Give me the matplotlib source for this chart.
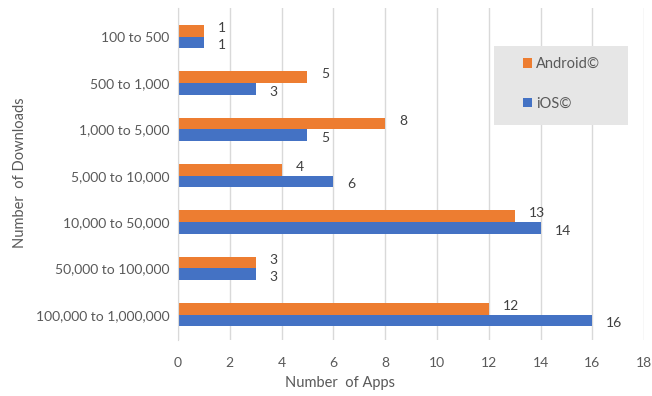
import matplotlib
matplotlib.use('Agg')
import matplotlib.pyplot as plt
from matplotlib.patches import Rectangle
import numpy as np

categories = ['100 to 500', '500 to 1,000', '1,000 to 5,000', '5,000 to 10,000',
              '10,000 to 50,000', '50,000 to 100,000', '100,000 to 1,000,000']
android = [1, 5, 8, 4, 13, 3, 12]
ios = [1, 3, 5, 6, 14, 3, 16]
x_ticks = [0, 2, 4, 6, 8, 10, 12, 14, 16, 18]

orange = '#ED7D31'
blue = '#4472C4'
text_col = '#595959'

plt.rcParams['font.family'] = ['Lato', 'DejaVu Sans']

fig = plt.figure(figsize=(6.52, 3.96), dpi=100)
ax = fig.add_axes([0.273, 0.141, 0.715, 0.839])

y = np.arange(len(categories))
h = 0.25
ax.barh(y - h / 2, android, height=h, color=orange, label='Android©')
ax.barh(y + h / 2, ios, height=h, color=blue, label='iOS©')

# value labels
for yi, v in zip(y, android):
    ax.annotate(str(v), (v, yi - h / 2), xytext=(10, 2), textcoords='offset points',
                va='center', ha='left', fontsize=10, color='#404040')
for yi, v in zip(y, ios):
    ax.annotate(str(v), (v, yi + h / 2), xytext=(10, -2), textcoords='offset points',
                va='center', ha='left', fontsize=10, color='#404040')

ax.set_xlim(0, 18)
ax.set_ylim(6.55, -0.62)
ax.set_xticks(x_ticks)
ax.set_yticks(y)
ax.set_yticklabels(categories)
ax.grid(axis='x', color='#d9d9d9', linewidth=1)
ax.set_axisbelow(True)
for s in ['top', 'right', 'bottom']:
    ax.spines[s].set_visible(False)
ax.spines['left'].set_color('#d9d9d9')
ax.tick_params(axis='both', length=0, labelsize=10, colors=text_col)
ax.tick_params(axis='x', pad=12)
ax.tick_params(axis='y', pad=6)

fig.text(0.521, 0.033, 'Number  of Apps', ha='center', va='center', fontsize=10.5, color=text_col)
fig.text(0.031, 0.565, 'Number  of Downloads', ha='center', va='center', rotation=90,
         fontsize=10.5, color=text_col)

# legend box drawn separately so the padding matches
ax.add_patch(Rectangle((0.678, 0.648), 0.288, 0.238, transform=ax.transAxes,
                       facecolor='#e6e6e6', edgecolor='none', zorder=3))
leg = ax.legend(loc='upper left', bbox_to_anchor=(0.74, 0.852), frameon=False, fontsize=10.5,
                handlelength=0.6, handleheight=0.6, labelspacing=1.75, borderpad=0,
                handletextpad=0.3, borderaxespad=0)
leg.set_zorder(5)
for t in leg.get_texts():
    t.set_color(text_col)

fig.savefig('out.png', dpi=100, facecolor='white')
